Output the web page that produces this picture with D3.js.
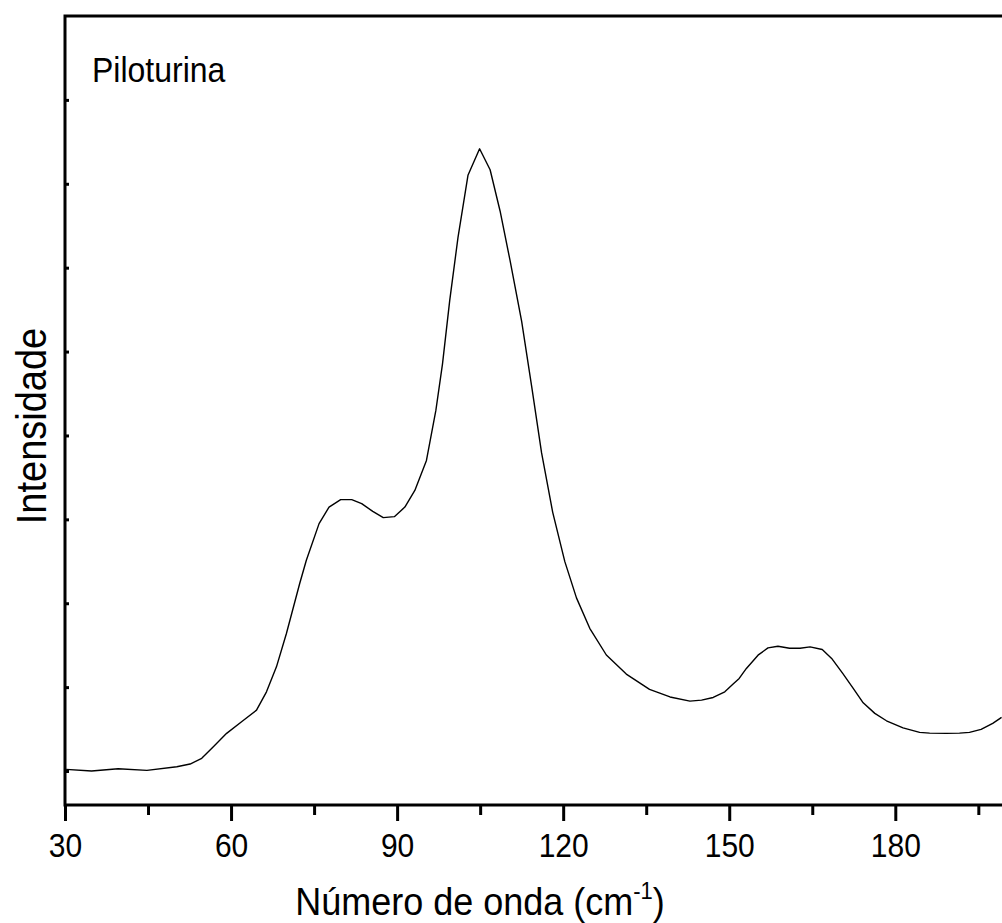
<!DOCTYPE html>
<html>
<head>
<meta charset="utf-8">
<script src="https://cdn.jsdelivr.net/npm/d3@7"></script>
<style>
  html, body { margin: 0; padding: 0; background: #fff; overflow: hidden; }
  text { font-family: "Liberation Sans", Arial, sans-serif; fill: #000; }
</style>
</head>
<body>
<svg id="chart" width="1002" height="923"></svg>
<script>
// Wavenumber (cm^-1)
const wavenumber = [30.2,34.8,39.6,44.8,50.2,52.6,54.7,56.8,59.2,61.9,64.6,66.4,68.2,70.0,72.4,73.6,75.9,77.7,79.8,81.8,83.6,85.6,87.5,89.5,91.4,93.2,95.3,97.0,98.2,99.5,101.0,102.8,104.9,106.8,108.6,110.4,112.5,114.3,116.1,118.1,120.3,122.4,124.8,127.8,131.4,135.6,139.3,142.9,145.0,147.1,149.2,150.7,151.8,153.1,155.2,157.0,158.8,160.9,162.8,164.6,166.8,168.5,170.5,172.4,174.2,176.3,178.4,181.4,184.4,186.2,189.2,191.6,193.4,195.5,197.6,199.2];
// Intensity (arbitrary units)
const intensity = [2.0,0,2.7,0.8,5.1,8.3,15.1,28.9,44.9,58.7,72.6,94.4,124.2,163.9,223.5,251.2,294.9,314.6,323.5,323.5,318.7,309.5,302.0,303.2,314.6,334.5,370.2,429.8,485.4,560.7,636.1,710.1,741.7,716.7,667.6,608.6,535.9,458.7,379.2,308.7,249.6,206.4,170.1,138.3,115.6,97.4,88.3,83.3,84.5,87.7,94.4,103.6,110.4,122.3,138.1,146.8,148.8,146.4,146.4,148.0,144.9,134.2,116.3,98.5,81.3,68.7,59.9,51.5,46.1,45.2,44.9,45.2,46.1,49.6,56.8,63.9];
const xMajorTicks = [30,60,90,120,150,180];
const xMinorTicks = [45,75,105,135,165,195];
const yTicks = [0,100,200,300,400,500,600,700,800];
const sampleLabel = "Piloturina";
const xTitle = "Número de onda (cm";
const xTitleSup = "-1";
const yTitle = "Intensidade";

const svg = d3.select("#chart");
const mLeft = 65, mRight = 1006, mTop = 16, mBottom = 805;
const stretch = 1.1;
const x = d3.scaleLinear().domain([30, 200]).range([mLeft, mRight]);
const y = d3.scaleLinear().domain([-40.5, 900]).range([mBottom, mTop]);

// Curve
const line = d3.line().x((d, i) => x(wavenumber[i])).y(d => y(d));
svg.append("path")
  .datum(intensity)
  .attr("d", line)
  .attr("fill", "none")
  .attr("stroke", "#000")
  .attr("stroke-width", 1.4)
  .attr("stroke-linejoin", "round");

// Bottom axis major ticks
const xAxisMajor = d3.axisBottom(x).tickValues(xMajorTicks).tickSize(16).tickPadding(16).tickFormat(d3.format("d"));
const gx = svg.append("g").attr("transform", `translate(0,${mBottom})`).call(xAxisMajor);
gx.select(".domain").remove();
gx.selectAll(".tick line").attr("stroke", "#000").attr("stroke-width", 3);
gx.selectAll(".tick text")
  .attr("font-size", 30)
  .attr("font-family", "Liberation Sans, Arial, sans-serif")
  .attr("fill", "#000")
  .attr("dy", null).attr("y", 0)
  .attr("transform", `translate(0,52) scale(1,${stretch})`);

const xAxisMinor = d3.axisBottom(x).tickValues(xMinorTicks).tickSize(10).tickFormat("");
const gxm = svg.append("g").attr("transform", `translate(0,${mBottom})`).call(xAxisMinor);
gxm.select(".domain").remove();
gxm.selectAll(".tick line").attr("stroke", "#000").attr("stroke-width", 3);

// Left axis inner ticks
const yAxis = d3.axisRight(y).tickValues(yTicks).tickSize(4).tickFormat("");
const gy = svg.append("g").attr("transform", `translate(${mLeft},0)`).call(yAxis);
gy.select(".domain").remove();
gy.selectAll(".tick line").attr("stroke", "#000").attr("stroke-width", 3);

// Frame
svg.append("rect")
  .attr("x", mLeft).attr("y", mTop)
  .attr("width", mRight - mLeft).attr("height", mBottom - mTop)
  .attr("fill", "none").attr("stroke", "#000").attr("stroke-width", 3);

// Labels
svg.append("text")
  .attr("transform", `translate(92,82) scale(1,${stretch})`)
  .attr("font-size", 32).text(sampleLabel);

const xt = svg.append("text")
  .attr("transform", `translate(480,915) scale(1,${stretch})`)
  .attr("text-anchor", "middle").attr("font-size", 36);
xt.append("tspan").text(xTitle);
xt.append("tspan").attr("font-size", 22).attr("dy", -15).text(xTitleSup);
xt.append("tspan").attr("dy", 15).text(")");

svg.append("text")
  .attr("transform", `translate(46,426) rotate(-90) scale(1,${stretch})`)
  .attr("text-anchor", "middle")
  .attr("font-size", 38)
  .text(yTitle);
</script>
</body>
</html>
